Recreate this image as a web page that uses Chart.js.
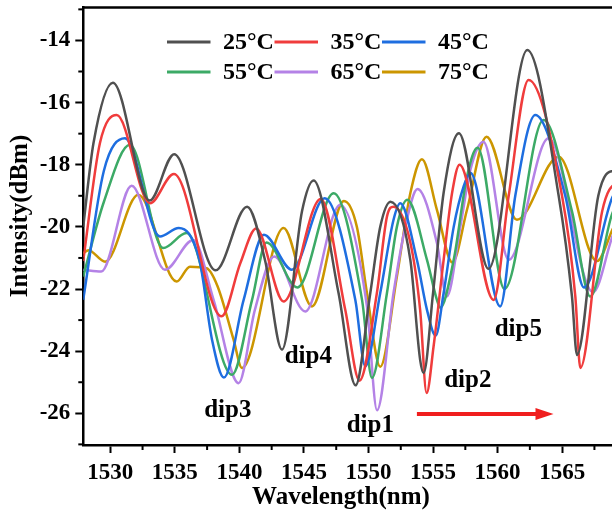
<!DOCTYPE html>
<html>
<head>
<meta charset="utf-8">
<script src="https://cdn.jsdelivr.net/npm/chart.js@4.4.1/dist/chart.umd.min.js"></script>
<style>
  html, body { margin: 0; padding: 0; background: #fff; overflow: hidden; }
  #wrap { width: 640px; height: 516px; }
</style>
</head>
<body>
<div id="wrap"><canvas id="spectra" width="640" height="516"></canvas></div>
<script>
// transmission spectra at six temperatures (wavelength in nm, intensity in dBm)
const temps = ['25°C', '35°C', '45°C', '55°C', '65°C', '75°C'];
const colors = ['#505050', '#f03c3c', '#1e6ee0', '#3caa66', '#b482e6', '#cc9600'];

const wl25 = [1527.9, 1528.7, 1530.2, 1533.05, 1534.95, 1538.15, 1540.6, 1542.0, 1543.3, 1544.85, 1545.75, 1547.68, 1549.0, 1550.14, 1550.91, 1551.7, 1553.24, 1554.0, 1554.27, 1555.0, 1555.82, 1557.0, 1559.3, 1562.3, 1564.73, 1565.76, 1566.15, 1567.8, 1569.0, 1571.0];
const db25 = [-20.0, -17.3, -15.36, -19.15, -17.66, -21.4, -19.35, -21.1, -23.95, -19.5, -18.51, -22.13, -25.1, -22.13, -20.0, -19.19, -21.06, -24.28, -24.7, -22.13, -18.9, -16.99, -21.35, -14.31, -19.0, -22.24, -24.12, -19.0, -18.2, -18.6];

const wl35 = [1527.9, 1529.2, 1530.5, 1533.07, 1534.93, 1538.62, 1540.07, 1541.3, 1543.43, 1546.3, 1548.2, 1549.3, 1550.65, 1551.43, 1551.94, 1553.24, 1554.0, 1554.5, 1555.04, 1555.82, 1556.47, 1557.05, 1559.69, 1560.86, 1562.4, 1564.99, 1566.02, 1566.41, 1568.1, 1569.2, 1571.0];
const db35 = [-21.1, -17.3, -16.4, -19.24, -18.3, -22.88, -21.17, -20.05, -22.4, -19.1, -22.67, -24.95, -22.13, -19.67, -19.35, -20.5, -22.67, -25.35, -23.85, -21.06, -18.92, -18.0, -22.35, -19.0, -15.27, -19.0, -22.24, -24.54, -19.5, -18.6, -18.5];

const wl45 = [1527.9, 1529.5, 1531.14, 1533.85, 1535.3, 1536.9, 1537.88, 1538.8, 1540.33, 1541.9, 1544.07, 1546.6, 1548.98, 1549.75, 1550.91, 1551.94, 1552.46, 1553.75, 1554.53, 1555.2, 1555.82, 1556.6, 1557.37, 1557.9, 1560.2, 1561.37, 1562.92, 1565.24, 1566.7, 1568.9, 1571.0];
const db45 = [-22.35, -18.2, -17.15, -20.31, -20.04, -21.06, -23.63, -24.85, -22.35, -20.25, -21.38, -19.08, -22.35, -24.49, -22.13, -19.77, -19.24, -21.06, -22.67, -23.5, -22.13, -20.0, -18.7, -18.27, -22.56, -19.0, -16.4, -19.0, -21.95, -19.04, -18.0];

const wl55 = [1527.9, 1529.5, 1531.52, 1534.1, 1535.9, 1539.43, 1540.98, 1542.1, 1544.5, 1547.3, 1549.5, 1550.27, 1551.43, 1552.2, 1553.0, 1554.53, 1555.3, 1555.56, 1556.6, 1557.63, 1558.45, 1560.54, 1563.56, 1565.76, 1567.18, 1568.9, 1571.0];
const db55 = [-21.6, -19.2, -17.36, -20.68, -20.2, -24.76, -22.35, -20.5, -21.95, -18.92, -22.35, -24.86, -22.13, -20.0, -19.13, -21.06, -22.35, -22.6, -21.06, -18.38, -17.45, -22.0, -16.56, -19.5, -22.24, -19.55, -18.5];

const wl65 = [1527.9, 1529.3, 1531.65, 1534.23, 1536.43, 1538.0, 1539.94, 1541.2, 1542.7, 1545.1, 1547.8, 1549.88, 1550.66, 1551.94, 1552.85, 1553.8, 1555.3, 1556.07, 1557.11, 1557.89, 1558.9, 1560.86, 1563.95, 1567.4, 1569.0, 1571.0];
const db65 = [-21.38, -21.44, -18.68, -21.38, -20.42, -22.35, -25.03, -22.67, -20.95, -22.72, -19.3, -22.56, -25.9, -22.13, -20.0, -18.78, -20.52, -22.24, -20.0, -18.17, -17.26, -21.06, -17.15, -22.1, -20.2, -19.0];

const wl75 = [1527.9, 1528.3, 1529.6, 1532.17, 1535.14, 1536.17, 1537.46, 1538.3, 1539.55, 1540.2, 1543.42, 1545.62, 1548.1, 1549.1, 1549.88, 1550.91, 1552.2, 1553.24, 1554.14, 1555.3, 1556.5, 1557.63, 1559.14, 1561.5, 1564.73, 1567.7, 1569.0, 1571.0];
const db75 = [-20.85, -20.75, -21.12, -18.97, -21.76, -21.28, -21.33, -21.9, -23.63, -24.54, -20.04, -22.56, -19.17, -20.0, -22.13, -24.5, -21.6, -18.92, -17.82, -19.45, -21.15, -19.45, -17.1, -19.77, -17.74, -21.1, -20.0, -18.8];

const xTicks = [1530, 1535, 1540, 1545, 1550, 1555, 1560, 1565];
const xMinor = [1532.5, 1537.5, 1542.5, 1547.5, 1552.5, 1557.5, 1562.5, 1567.5, 1570];
const yTicks = [-26, -24, -22, -20, -18, -16, -14];
const yMinor = [-27, -25, -23, -21, -19, -17, -15, -13];

// dip markers: label, wavelength, intensity
const dipNames = ['dip1', 'dip2', 'dip3', 'dip4', 'dip5'];
const dipWl = [1550.14, 1557.69, 1539.1, 1545.34, 1561.6];
const dipDb = [-26.4, -24.95, -25.92, -24.18, -23.31];

// red-shift arrow
const arrowWl = [1553.75, 1564.33];
const arrowDb = -26.02;

const series = [[wl25, db25], [wl35, db35], [wl45, db45], [wl55, db55], [wl65, db65], [wl75, db75]];

const serif = "'Liberation Serif', 'Times New Roman', serif";

const decorations = {
    id: 'decorations',
    afterDraw(chart) {
        const ctx = chart.ctx;
        const area = chart.chartArea;
        const xs = chart.scales.x;
        const ys = chart.scales.y;
        ctx.save();

        // top frame line
        ctx.strokeStyle = '#000';
        ctx.lineWidth = 2.5;
        ctx.beginPath();
        ctx.moveTo(area.left - 1.25, area.top);
        ctx.lineTo(area.right, area.top);
        ctx.stroke();

        // minor ticks
        ctx.lineWidth = 2;
        xMinor.forEach(v => {
            const px = xs.getPixelForValue(v);
            ctx.beginPath();
            ctx.moveTo(px, area.bottom);
            ctx.lineTo(px, area.bottom + (v === 1570 ? 8 : 5));
            ctx.stroke();
        });
        yMinor.forEach(v => {
            const py = ys.getPixelForValue(v);
            if (py < area.top || py > area.bottom) return;
            ctx.beginPath();
            ctx.moveTo(area.left, py);
            ctx.lineTo(area.left - 5, py);
            ctx.stroke();
        });

        // legend, two rows of three
        ctx.font = `bold 24px ${serif}`;
        ctx.textBaseline = 'middle';
        ctx.textAlign = 'left';
        const colX = [167, 274.5, 382];
        const rowY = [42, 72];
        temps.forEach((t, i) => {
            const x0 = colX[i % 3];
            const y0 = rowY[Math.floor(i / 3)];
            ctx.strokeStyle = colors[i];
            ctx.lineWidth = 3;
            ctx.beginPath();
            ctx.moveTo(x0, y0);
            ctx.lineTo(x0 + 43.5, y0);
            ctx.stroke();
            ctx.fillStyle = '#000';
            ctx.fillText(t, x0 + 56, y0 + 1);
        });

        // dip labels
        ctx.font = `bold 25px ${serif}`;
        ctx.textAlign = 'center';
        dipNames.forEach((name, i) => {
            ctx.fillText(name, xs.getPixelForValue(dipWl[i]), ys.getPixelForValue(dipDb[i]));
        });

        // arrow
        const ax0 = xs.getPixelForValue(arrowWl[0]);
        const ax1 = xs.getPixelForValue(arrowWl[1]);
        const ay = ys.getPixelForValue(arrowDb);
        ctx.strokeStyle = '#f01e1e';
        ctx.fillStyle = '#f01e1e';
        ctx.lineWidth = 4;
        ctx.beginPath();
        ctx.moveTo(ax0, ay);
        ctx.lineTo(ax1 - 16, ay);
        ctx.stroke();
        ctx.beginPath();
        ctx.moveTo(ax1, ay);
        ctx.lineTo(ax1 - 18, ay - 6);
        ctx.lineTo(ax1 - 18, ay + 6);
        ctx.closePath();
        ctx.fill();

        // axis titles
        ctx.fillStyle = '#000';
        ctx.font = `bold 25px ${serif}`;
        ctx.textAlign = 'center';
        ctx.textBaseline = 'middle';
        ctx.fillText('Wavelength(nm)', 341, 498);
        ctx.translate(21, 216);
        ctx.rotate(-Math.PI / 2);
        ctx.fillText('Intensity(dBm)', 0, 0);

        ctx.restore();
    }
};

new Chart(document.getElementById('spectra'), {
    type: 'line',
    data: {
        datasets: series.map(([wl, db], i) => ({
            label: temps[i],
            data: wl.map((w, k) => ({ x: w, y: db[k] })),
            borderColor: colors[i],
            borderWidth: 2.5,
            pointRadius: 0,
            fill: false,
            cubicInterpolationMode: 'monotone'
        }))
    },
    options: {
        responsive: false,
        animation: false,
        layout: { padding: { top: 7.5, left: 0, right: 0, bottom: 0 } },
        plugins: {
            legend: { display: false },
            tooltip: { enabled: false }
        },
        scales: {
            x: {
                type: 'linear',
                min: 1527.91,
                max: 1571.03,
                afterBuildTicks: scale => { scale.ticks = xTicks.map(v => ({ value: v })); },
                afterFit: scale => {
                    scale.height = 71;
                    scale.paddingLeft = 0;
                    scale.paddingRight = 0;
                },
                ticks: {
                    color: '#000',
                    padding: 6,
                    maxRotation: 0,
                    font: { family: serif, size: 23, weight: 'bold' },
                    callback: v => String(v)
                },
                grid: { drawOnChartArea: false, tickLength: 8, tickWidth: 2, tickColor: '#000' },
                border: { color: '#000', width: 2.5 }
            },
            y: {
                min: -27.02,
                max: -12.94,
                afterBuildTicks: scale => { scale.ticks = yTicks.map(v => ({ value: v })); },
                afterFit: scale => {
                    scale.width = 83.3;
                    scale.paddingTop = 0;
                    scale.paddingBottom = 0;
                },
                ticks: {
                    color: '#000',
                    padding: 5,
                    font: { family: serif, size: 23, weight: 'bold' },
                    callback: v => String(v)
                },
                grid: { drawOnChartArea: false, tickLength: 8, tickWidth: 2, tickColor: '#000' },
                border: { color: '#000', width: 2.5 }
            }
        }
    },
    plugins: [decorations]
});
</script>
</body>
</html>
